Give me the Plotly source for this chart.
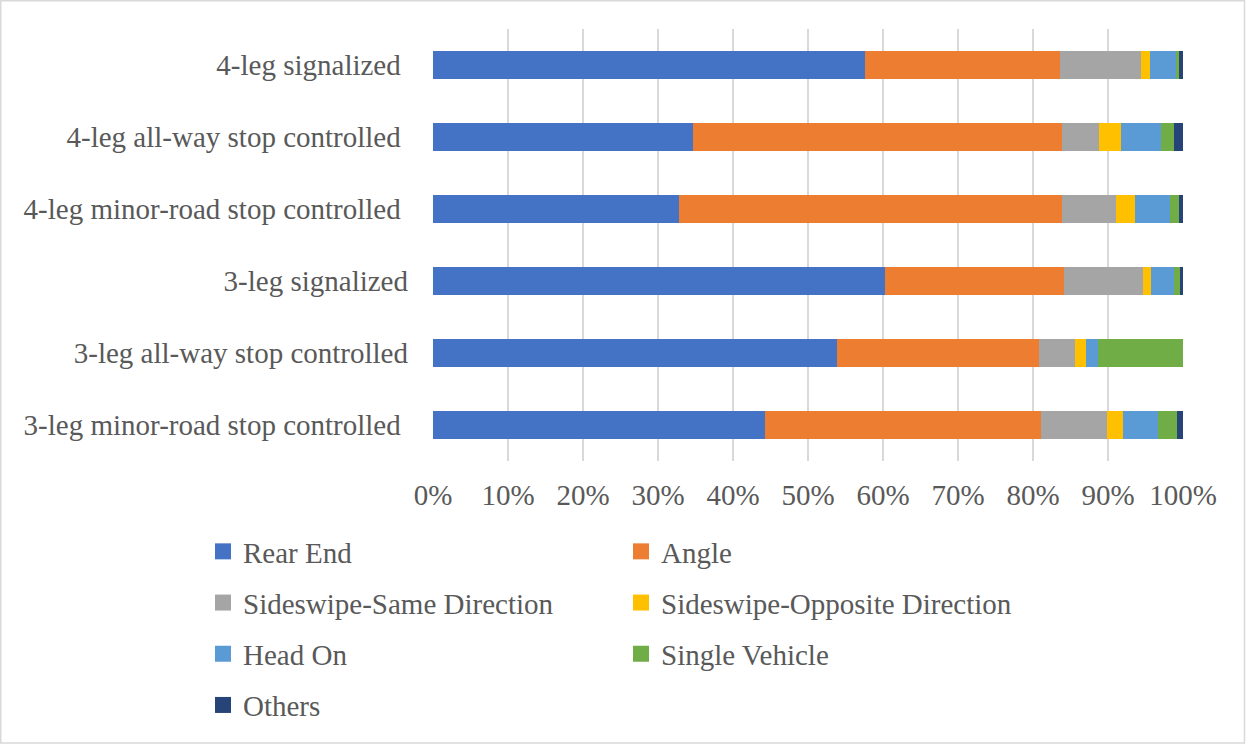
import plotly.graph_objects as go

# Categories (bottom to top, as in the source data order)
categories = [
    "3-leg minor-road stop controlled",
    "3-leg all-way stop controlled",
    "3-leg signalized",
    "4-leg minor-road stop controlled",
    "4-leg all-way stop controlled",
    "4-leg signalized",
]
# Tick labels as shown (some carry a trailing space in the source)
tick_labels = [
    "3-leg minor-road stop controlled\u00a0",
    "3-leg all-way stop controlled",
    "3-leg signalized",
    "4-leg minor-road stop controlled\u00a0",
    "4-leg all-way stop controlled\u00a0",
    "4-leg signalized\u00a0",
]

rear_end = [44.2, 53.9, 60.2, 32.8, 34.6, 57.6]
angle = [36.9, 26.9, 23.9, 51.0, 49.3, 26.0]
sideswipe_same = [8.8, 4.8, 10.5, 7.2, 4.9, 10.8]
sideswipe_opp = [2.1, 1.5, 1.1, 2.6, 2.9, 1.2]
head_on = [4.6, 1.6, 3.1, 4.6, 5.3, 3.5]
single_vehicle = [2.6, 11.3, 0.8, 1.2, 1.8, 0.4]
others = [0.8, 0.0, 0.4, 0.6, 1.2, 0.5]

series_names = ["Rear End", "Angle", "Sideswipe-Same Direction",
                "Sideswipe-Opposite Direction", "Head On", "Single Vehicle", "Others"]
series_values = [rear_end, angle, sideswipe_same, sideswipe_opp, head_on, single_vehicle, others]
series_colors = ["#4472C4", "#ED7D31", "#A5A5A5", "#FFC000", "#5B9BD5", "#70AD47", "#264478"]
legend_ids = ["legend", "legend2", "legend", "legend2", "legend", "legend2", "legend"]

x_ticks = [0, 10, 20, 30, 40, 50, 60, 70, 80, 90, 100]
x_tick_labels = ["0%", "10%", "20%", "30%", "40%", "50%", "60%", "70%", "80%", "90%", "100%"]

FONT = "Liberation Serif, Times New Roman, serif"
TXT = "#595959"
FS = 29

fig = go.Figure()
for name, vals, col, lg in zip(series_names, series_values, series_colors, legend_ids):
    fig.add_trace(go.Bar(
        y=categories, x=vals, name=name, orientation="h",
        marker=dict(color=col, line=dict(width=0)),
        showlegend=False, legendgroup=name,
    ))
    # legend entry with a 16px square swatch
    fig.add_trace(go.Scatter(
        x=[None], y=[None], mode="markers", name=name,
        marker=dict(symbol="square", size=16, color=col),
        legend=lg, legendgroup=name, showlegend=True,
    ))

L, R, T, B = 433, 63, 29, 283
W, H = 1246, 744
pw, ph = W - L - R, H - T - B

def px_to_paper_x(px):
    return (px - L) / pw

def px_to_paper_y(py):
    return (H - B - py) / ph

legend_common = dict(
    font=dict(family=FONT, size=FS, color=TXT),
    orientation="v", xanchor="left", yanchor="top",
    bgcolor="rgba(0,0,0,0)", borderwidth=0, tracegroupgap=10.5,
    itemclick=False, itemdoubleclick=False,
)

fig.update_layout(
    width=W, height=H,
    margin=dict(l=L, r=R, t=T, b=B, autoexpand=False),
    barmode="stack", barnorm="percent", bargap=0.61,
    plot_bgcolor="white", paper_bgcolor="white",
    font=dict(family=FONT, size=FS, color=TXT),
    legend=dict(x=px_to_paper_x(203), y=px_to_paper_y(526), **legend_common),
    legend2=dict(x=px_to_paper_x(621), y=px_to_paper_y(526), **legend_common),
    xaxis=dict(
        range=[0, 100], tickmode="array", tickvals=x_ticks, ticktext=x_tick_labels,
        showgrid=True, gridcolor="#D9D9D9", gridwidth=1.8,
        zeroline=False, showline=False, ticks="",
        tickfont=dict(family=FONT, size=FS, color=TXT),
        ticklabelstandoff=14, fixedrange=True,
    ),
    yaxis=dict(
        type="category", categoryorder="array", categoryarray=categories,
        tickmode="array", tickvals=categories, ticktext=tick_labels,
        showgrid=False, zeroline=False, showline=False, ticks="",
        tickfont=dict(family=FONT, size=FS, color=TXT),
        ticklabelstandoff=24, fixedrange=True,
    ),
    shapes=[dict(
        type="rect", xref="paper", yref="paper",
        x0=px_to_paper_x(0.75), x1=px_to_paper_x(1244.5),
        y0=px_to_paper_y(743), y1=px_to_paper_y(0.75),
        line=dict(color="#D9D9D9", width=1.5), fillcolor="rgba(0,0,0,0)", layer="below",
    )],
)

fig.write_html(
    "out.html",
    config={"displayModeBar": False, "staticPlot": True},
    post_script="document.body.style.margin='0px';document.body.style.overflow='hidden';",
)
